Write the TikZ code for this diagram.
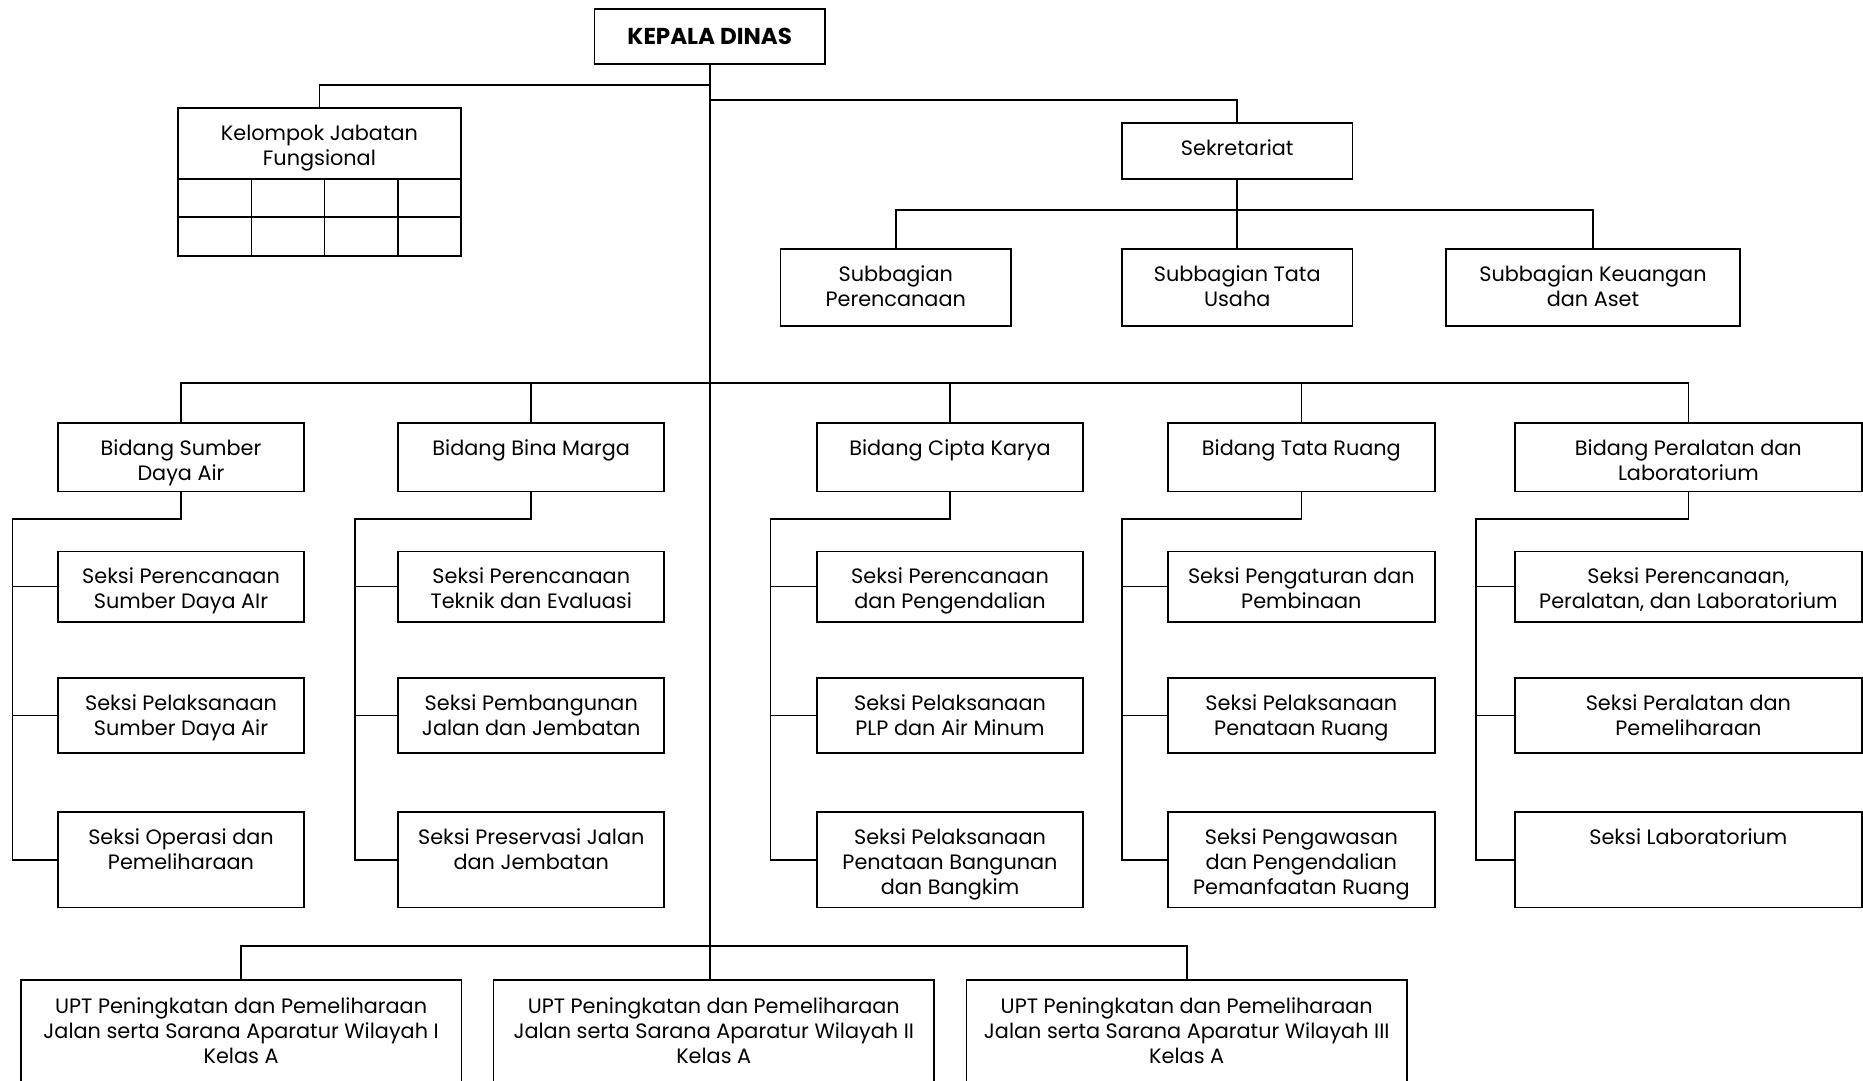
\documentclass[tikz,border=0pt]{standalone}
\usepackage{fontspec}
\setmainfont{Poppins}
\newcommand{\obx}[7]{%
  \node[obox, minimum width={#4-#2}, minimum height={#5-#3}] (#1) at ({(#2+#4)/2},{(#3+#5)/2}) {};
  \node[otext, anchor=north] (#1-t) at ([yshift=-#6pt]#1.north) {\strut#7};
}
\begin{document}
\begin{tikzpicture}[x=1pt,y=-1pt,
  obox/.style={draw, line width=1.7pt, inner sep=0pt, outer sep=0pt},
  otext/.style={font=\fontsize{20.8}{25}\selectfont, align=center, inner sep=0pt},
  conn/.style={line width=1.7pt}]
\useasboundingbox (0,0) rectangle (1863,1080);
\fill[white] (0,0) rectangle (1863,1080);
\clip (0,0) rectangle (1863,1080);
% top
\node[obox, minimum width=230.6, minimum height=55.3] (kepala) at (709.7,36.65) {};
\node[otext, font=\fontsize{23}{25}\selectfont\bfseries] (kepala-t) at (kepala.center) {KEPALA DINAS};
\obx{kjf}{177.7}{108.3}{461.2}{256}{14.5}{Kelompok Jabatan\\Fungsional}
\obx{sek}{1122}{123.3}{1352.4}{179}{14.5}{Sekretariat}
\obx{sbp}{780.5}{249}{1011}{326}{14.5}{Subbagian\\Perencanaan}
\obx{sbt}{1122}{249}{1352.4}{326}{14.5}{Subbagian Tata\\Usaha}
\obx{sbk}{1445.7}{249}{1740.2}{326}{14.5}{Subbagian Keuangan\\dan Aset}
% KJF grid
\draw[conn] (kjf.west |- 0,178.7) -- (kjf.east |- 0,178.7);
\draw[conn] (kjf.west |- 0,217.3) -- (kjf.east |- 0,217.3);
\foreach \gx in {251.4,324.5,398.2} \draw[conn] (\gx,178.7) -- (kjf.south -| \gx,0);
% bidang
\obx{bsda}{58}{423}{304}{491.4}{14.5}{Bidang Sumber\\Daya Air}
\obx{bbm}{398.2}{423}{664.3}{491.4}{14.5}{Bidang Bina Marga}
\obx{bck}{817}{423}{1083}{491.4}{14.5}{Bidang Cipta Karya}
\obx{btr}{1168}{423}{1434.7}{491.4}{14.5}{Bidang Tata Ruang}
\obx{bpl}{1515}{423}{1861.7}{491.4}{14.5}{Bidang Peralatan dan\\Laboratorium}
% seksi col A
\obx{sa1}{58}{551.4}{304}{621.8}{14.5}{Seksi Perencanaan\\Sumber Daya AIr}
\obx{sa2}{58}{678.2}{304}{752.9}{14.5}{Seksi Pelaksanaan\\Sumber Daya Air}
\obx{sa3}{58}{811.8}{304}{907.5}{14.5}{Seksi Operasi dan\\Pemeliharaan}
% col B
\obx{sb1}{398.2}{551.4}{664.3}{621.8}{14.5}{Seksi Perencanaan\\Teknik dan Evaluasi}
\obx{sb2}{398.2}{678.2}{664.3}{752.9}{14.5}{Seksi Pembangunan\\Jalan dan Jembatan}
\obx{sb3}{398.2}{811.8}{664.3}{907.5}{14.5}{Seksi Preservasi Jalan\\dan Jembatan}
% col C
\obx{sc1}{817}{551.4}{1083}{621.8}{14.5}{Seksi Perencanaan\\dan Pengendalian}
\obx{sc2}{817}{678.2}{1083}{752.9}{14.5}{Seksi Pelaksanaan\\PLP dan Air Minum}
\obx{sc3}{817}{811.8}{1083}{907.5}{14.5}{Seksi Pelaksanaan\\Penataan Bangunan\\dan Bangkim}
% col D
\obx{sd1}{1168}{551.4}{1434.7}{621.8}{14.5}{Seksi Pengaturan dan\\Pembinaan}
\obx{sd2}{1168}{678.2}{1434.7}{752.9}{14.5}{Seksi Pelaksanaan\\Penataan Ruang}
\obx{sd3}{1168}{811.8}{1434.7}{907.5}{14.5}{Seksi Pengawasan\\dan Pengendalian\\Pemanfaatan Ruang}
% col E
\obx{se1}{1515}{551.4}{1861.7}{621.8}{14.5}{Seksi Perencanaan,\\Peralatan, dan Laboratorium}
\obx{se2}{1515}{678.2}{1861.7}{752.9}{14.5}{Seksi Peralatan dan\\Pemeliharaan}
\obx{se3}{1515}{811.8}{1861.7}{907.5}{14.5}{Seksi Laboratorium}
% UPT
\obx{u1}{20.8}{980.3}{461.4}{1095}{15.5}{UPT Peningkatan dan Pemeliharaan\\Jalan serta Sarana Aparatur Wilayah I\\Kelas A}
\obx{u2}{493.5}{980.3}{934}{1095}{15.5}{UPT Peningkatan dan Pemeliharaan\\Jalan serta Sarana Aparatur Wilayah II\\Kelas A}
\obx{u3}{966.4}{980.3}{1407}{1095}{15.5}{UPT Peningkatan dan Pemeliharaan\\Jalan serta Sarana Aparatur Wilayah III\\Kelas A}
% connectors
\draw[conn] (kepala.south) -- (kepala.south |- u2.north);
\draw[conn] (kepala.south |- 0,85) -| (kjf.north);
\draw[conn] (kepala.south |- 0,100.3) -| (sek.north);
\draw[conn] (sek.south) -- (sbt.north);
\draw[conn] (sbp.north) |- (sbk.north |- 0,210) -- (sbk.north);
\draw[conn] (bsda.north) |- (bpl.north |- 0,383.2) -- (bpl.north);
\foreach \b in {bbm,bck,btr} \draw[conn] (\b.north) -- (\b.north |- 0,383.2);
\draw[conn] (u1.north) |- (u3.north |- 0,946) -- (u3.north);
% bidang to seksi
\foreach \b/\s/\vx in {bsda/sa/12.5, bbm/sb/354.9, bck/sc/770.5, btr/sd/1122.3, bpl/se/1476.3}{
  \coordinate (\b-v) at (\vx,519.3);
  \draw[conn] (\b.south) |- (\b-v) |- (\s3.west);
  \draw[conn] (\b-v |- \s1.west) -- (\s1.west);
  \draw[conn] (\b-v |- \s2.west) -- (\s2.west);
}
\end{tikzpicture}
\end{document}
